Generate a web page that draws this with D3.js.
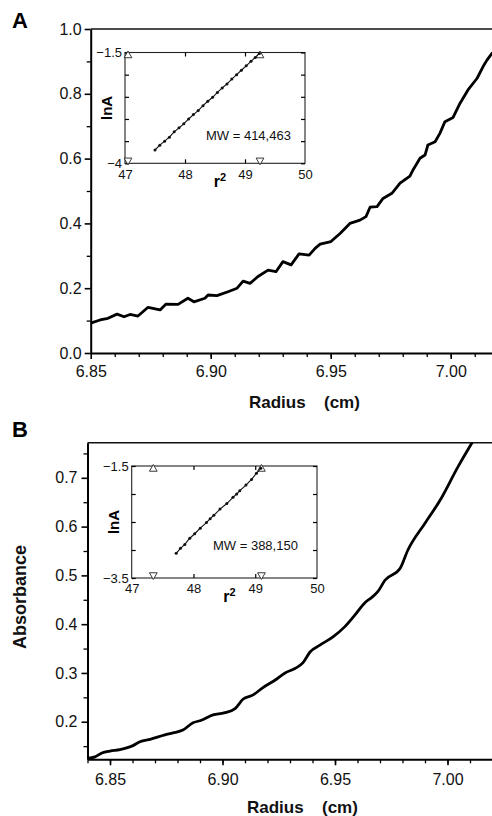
<!DOCTYPE html>
<html lang="en">
<head>
  <meta charset="UTF-8" />
  <title>Sedimentation equilibrium scans</title>
  <script src="https://d3js.org/d3.v7.min.js"></script>
  <style>
    body {
      margin: 0;
      padding: 0;
      background: #fff;
    }
    svg {
      display: block;
      font-family: "Liberation Sans", Arial, Helvetica, sans-serif;
    }
    .axis path,
    .axis line {
      stroke: #000;
    }
    .axis text {
      fill: #111;
    }
  </style>
</head>
<body>
  <svg width="492" height="816"></svg>
  <script>
    // Panel A: absorbance scan (radius in cm, absorbance)
    const radiusA = [6.8500, 6.8539, 6.8572, 6.8610, 6.8639, 6.8664, 6.8697, 6.8739, 6.8789, 6.8814,
      6.8864, 6.8905, 6.8930, 6.8976, 6.8989, 6.9026, 6.9072, 6.9110, 6.9135, 6.9164,
      6.9197, 6.9239, 6.9272, 6.9301, 6.9335, 6.9368, 6.9410, 6.9435, 6.9456, 6.9501,
      6.9539, 6.9580, 6.9622, 6.9647, 6.9664, 6.9693, 6.9718, 6.9755, 6.9789, 6.9830,
      6.9843, 6.9872, 6.9893, 6.9905, 6.9935, 6.9955, 6.9976, 7.0010, 7.0039, 7.0072,
      7.0110, 7.0135, 7.0151, 7.0172];
    const absA = [0.092, 0.102, 0.107, 0.120, 0.112, 0.119, 0.114, 0.141, 0.133, 0.151,
      0.150, 0.169, 0.158, 0.169, 0.179, 0.177, 0.189, 0.200, 0.222, 0.215,
      0.236, 0.256, 0.251, 0.282, 0.272, 0.306, 0.302, 0.323, 0.336, 0.344,
      0.369, 0.400, 0.410, 0.421, 0.450, 0.452, 0.477, 0.493, 0.524, 0.546,
      0.565, 0.601, 0.611, 0.642, 0.652, 0.678, 0.714, 0.727, 0.771, 0.812,
      0.848, 0.884, 0.904, 0.925];

    // Panel A inset: lnA vs r^2
    const r2A = [47.50, 47.58, 47.66, 47.74, 47.82, 47.90, 47.98, 48.06, 48.14, 48.22,
      48.30, 48.38, 48.46, 48.54, 48.62, 48.70, 48.78, 48.86, 48.94, 49.02,
      49.10, 49.17, 49.24];
    const lnA_A = [-3.70, -3.59, -3.50, -3.41, -3.29, -3.20, -3.11, -3.00, -2.90, -2.81,
      -2.70, -2.60, -2.51, -2.40, -2.30, -2.21, -2.10, -2.00, -1.90, -1.80,
      -1.70, -1.61, -1.52];
    const fitLimitsA = [47.05, 49.25];
    const mwA = "MW = 414,463";

    // Panel B: absorbance scan
    const radiusB = [6.8399, 6.8433, 6.8464, 6.8500, 6.8544, 6.8602, 6.8633, 6.8678, 6.8744, 6.8780,
      6.8824, 6.8869, 6.8900, 6.8958, 6.9007, 6.9056, 6.9091, 6.9136, 6.9180, 6.9233,
      6.9278, 6.9322, 6.9358, 6.9389, 6.9433, 6.9491, 6.9544, 6.9589, 6.9633, 6.9664,
      6.9691, 6.9722, 6.9789, 6.9824, 6.9900, 6.9967, 7.0047, 7.0109];
    const absB = [0.125, 0.128, 0.136, 0.140, 0.143, 0.151, 0.159, 0.164, 0.173, 0.177,
      0.183, 0.198, 0.202, 0.214, 0.218, 0.227, 0.246, 0.255, 0.270, 0.285,
      0.300, 0.309, 0.321, 0.343, 0.357, 0.374, 0.395, 0.419, 0.444, 0.455,
      0.467, 0.490, 0.514, 0.552, 0.607, 0.654, 0.723, 0.772];

    // Panel B inset
    const r2B = [47.72, 47.79, 47.86, 47.94, 48.02, 48.11, 48.21, 48.27, 48.33, 48.43,
      48.54, 48.64, 48.70, 48.75, 48.85, 48.94, 49.02, 49.09];
    const lnA_B = [-3.06, -2.97, -2.90, -2.79, -2.71, -2.61, -2.51, -2.44, -2.38, -2.27,
      -2.17, -2.06, -2.00, -1.94, -1.84, -1.74, -1.63, -1.54];
    const fitLimitsB = [47.35, 49.10];
    const mwB = "MW = 388,150";

    // tick labels
    const radiusTicks = [6.85, 6.90, 6.95, 7.00];
    const absTicksA = [0.0, 0.2, 0.4, 0.6, 0.8, 1.0];
    const absTicksB = [0.2, 0.3, 0.4, 0.5, 0.6, 0.7];
    const r2Ticks = [47, 48, 49, 50];

    const svg = d3.select("svg");

    function drawMain(opt) {
      const g = svg.append("g");
      const x = d3.scaleLinear().domain(opt.xDomain).range(opt.xRange);
      const y = d3.scaleLinear().domain(opt.yDomain).range(opt.yRange);

      // minor ticks
      g.append("g").attr("class", "axis")
        .attr("transform", `translate(0,${opt.yRange[0]})`)
        .call(d3.axisBottom(x).tickValues(opt.xMinor).tickFormat("").tickSize(4))
        .call(s => s.select(".domain").remove())
        .selectAll("line").attr("stroke-width", 1.3);
      g.append("g").attr("class", "axis")
        .attr("transform", `translate(${opt.xRange[0]},0)`)
        .call(d3.axisLeft(y).tickValues(opt.yMinor).tickFormat("").tickSize(4))
        .call(s => s.select(".domain").remove())
        .selectAll("line").attr("stroke-width", 1.3);

      // major ticks + labels
      const xa = g.append("g").attr("class", "axis")
        .attr("transform", `translate(0,${opt.yRange[0]})`)
        .call(d3.axisBottom(x).tickValues(radiusTicks).tickFormat(d3.format(".2f"))
          .tickSize(6).tickPadding(opt.xPad).tickSizeOuter(0));
      xa.select(".domain").attr("stroke-width", 2);
      xa.selectAll("line").attr("stroke-width", 1.6);
      xa.selectAll("text").attr("font-size", 16);

      const ya = g.append("g").attr("class", "axis")
        .attr("transform", `translate(${opt.xRange[0]},0)`)
        .call(d3.axisLeft(y).tickValues(opt.yTicks).tickFormat(d3.format(".1f"))
          .tickSize(6).tickPadding(opt.yPad).tickSizeOuter(0));
      ya.select(".domain").attr("stroke-width", 2);
      ya.selectAll("line").attr("stroke-width", 1.6);
      ya.selectAll("text").attr("font-size", 16);

      // top frame line
      g.append("line")
        .attr("x1", opt.xRange[0]).attr("x2", 492)
        .attr("y1", opt.yRange[1]).attr("y2", opt.yRange[1])
        .attr("stroke", "#111").attr("stroke-width", 1.6);

      const clipId = "clip" + opt.id;
      svg.append("clipPath").attr("id", clipId)
        .append("rect")
        .attr("x", opt.xRange[0]).attr("y", opt.yRange[1])
        .attr("width", 492 - opt.xRange[0]).attr("height", opt.yRange[0] - opt.yRange[1]);

      const line = d3.line()
        .x((d, i) => x(opt.xs[i]))
        .y((d, i) => y(opt.ys[i]))
        .curve(opt.curve);

      g.append("path")
        .attr("d", line(opt.xs))
        .attr("clip-path", `url(#${clipId})`)
        .attr("fill", "none")
        .attr("stroke", "#000")
        .attr("stroke-width", 2.8)
        .attr("stroke-linejoin", "round")
        .attr("stroke-linecap", "round");

      // x title
      const t = g.append("text")
        .attr("y", opt.titleY)
        .attr("font-size", 17)
        .attr("font-weight", "bold")
        .attr("fill", "#111");
      t.append("tspan").attr("x", opt.titleX).text("Radius");
      t.append("tspan").attr("x", opt.titleX + 75).text("(cm)");

      // panel letter
      g.append("text")
        .attr("x", 12).attr("y", opt.letterY)
        .attr("font-size", 22)
        .attr("font-weight", "bold")
        .text(opt.letter);

      return g;
    }

    function drawInset(opt) {
      const g = svg.append("g");
      const x = d3.scaleLinear().domain([47, 50]).range(opt.xRange);
      const y = d3.scaleLinear().domain(opt.yDomain).range(opt.yRange);
      const [x0, x1] = opt.xRange;
      const [y0, y1] = opt.yRange; // bottom, top

      g.append("rect")
        .attr("x", x0).attr("y", y1)
        .attr("width", x1 - x0).attr("height", y0 - y1)
        .attr("fill", "#fff").attr("stroke", "#222").attr("stroke-width", 1.1);

      const inner = [48, 49];
      const style = sel => {
        sel.select(".domain").remove();
        sel.selectAll("line").attr("stroke-width", 1.2);
        sel.selectAll("text").attr("font-size", 13);
      };

      g.append("g").attr("class", "axis")
        .attr("transform", `translate(0,${y0})`)
        .call(d3.axisBottom(x).tickValues(r2Ticks).tickSize(0).tickPadding(6).tickFormat(d3.format("d")))
        .call(style);
      g.append("g").attr("class", "axis")
        .attr("transform", `translate(0,${y0})`)
        .call(d3.axisBottom(x).tickValues(inner).tickSize(-4).tickFormat(""))
        .call(style);
      g.append("g").attr("class", "axis")
        .attr("transform", `translate(0,${y1})`)
        .call(d3.axisTop(x).tickValues(inner).tickSize(-4).tickFormat(""))
        .call(style);

      const ends = opt.yDomain;
      g.append("g").attr("class", "axis")
        .attr("transform", `translate(${x0},0)`)
        .call(d3.axisLeft(y).tickValues(opt.yTicks).tickSize(-4).tickPadding(3)
          .tickFormat(d => (d === ends[0] || d === ends[1]) ? d3.format("")(d) : ""))
        .call(style);
      g.append("g").attr("class", "axis")
        .attr("transform", `translate(${x1},0)`)
        .call(d3.axisRight(y).tickValues(opt.yTicks).tickSize(-4).tickFormat(""))
        .call(style);

      // fit limit markers
      const tri = d3.symbol(d3.symbolTriangle, 26);
      opt.limits.forEach(v => {
        g.append("path").attr("d", tri())
          .attr("transform", `translate(${x(v)},${y1 + 3})`)
          .attr("fill", "#fff").attr("stroke", "#222").attr("stroke-width", 0.9);
        g.append("path").attr("d", tri())
          .attr("transform", `translate(${x(v)},${y0 - 3}) rotate(180)`)
          .attr("fill", "#fff").attr("stroke", "#222").attr("stroke-width", 0.9);
      });

      const line = d3.line()
        .x((d, i) => x(opt.xs[i]))
        .y((d, i) => y(opt.ys[i]));
      g.append("path")
        .attr("d", line(opt.xs))
        .attr("fill", "none").attr("stroke", "#111").attr("stroke-width", 1.1);
      g.selectAll("circle.pt")
        .data(opt.xs)
        .join("circle")
        .attr("class", "pt")
        .attr("cx", (d, i) => x(opt.xs[i]))
        .attr("cy", (d, i) => y(opt.ys[i]))
        .attr("r", 1.5)
        .attr("fill", "#111");

      g.append("text")
        .attr("x", opt.mwX).attr("y", opt.mwY)
        .attr("font-size", 13).attr("fill", "#111")
        .text(opt.mw);

      // axis titles
      const cy = (y0 + y1) / 2;
      g.append("text")
        .attr("transform", `translate(${x0 - 13},${cy}) rotate(-90)`)
        .attr("text-anchor", "middle")
        .attr("font-size", 15).attr("font-weight", "bold")
        .text("lnA");
      const r = g.append("text")
        .attr("x", (x0 + x1) / 2 + 5).attr("y", y0 + 24)
        .attr("text-anchor", "middle")
        .attr("font-size", 16).attr("font-weight", "bold");
      r.append("tspan").text("r");
      r.append("tspan").attr("dy", -6).attr("font-size", 11).text("2");
    }

    drawMain({
      id: "A", letter: "A", letterY: 28,
      xDomain: [6.85, 7.02], xRange: [90.7, 90.7 + 0.17 * 2400],
      yDomain: [0, 1.0], yRange: [353, 29],
      xMinor: d3.range(6.86, 7.02, 0.01), yMinor: d3.range(0.1, 1.0, 0.2),
      yTicks: absTicksA, xPad: 7, yPad: 3,
      xs: radiusA, ys: absA, curve: d3.curveLinear,
      titleX: 249, titleY: 408
    });
    drawInset({
      xRange: [125, 305], yDomain: [-4, -1.5], yRange: [163.3, 52.5],
      yTicks: [-4, -3.5, -3, -2.5, -2, -1.5],
      limits: fitLimitsA, xs: r2A, ys: lnA_A,
      mw: mwA, mwX: 206, mwY: 140
    });

    drawMain({
      id: "B", letter: "B", letterY: 437,
      xDomain: [6.84, 7.02], xRange: [87.5, 87.5 + 0.18 * 2250],
      yDomain: [0.123, 0.772], yRange: [759.3, 442.7],
      xMinor: d3.range(6.84, 7.02, 0.01), yMinor: d3.range(0.15, 0.77, 0.1),
      yTicks: absTicksB, xPad: 8, yPad: 4,
      xs: radiusB, ys: absB, curve: d3.curveMonotoneX,
      titleX: 247, titleY: 813
    });
    drawInset({
      xRange: [131.7, 317], yDomain: [-3.5, -1.5], yRange: [578, 466],
      yTicks: [-3.5, -3, -2.5, -2, -1.5],
      limits: fitLimitsB, xs: r2B, ys: lnA_B,
      mw: mwB, mwX: 213, mwY: 550
    });

    // y title for panel B
    svg.append("text")
      .attr("transform", "translate(26,597) rotate(-90)")
      .attr("text-anchor", "middle")
      .attr("font-size", 18).attr("font-weight", "bold")
      .attr("fill", "#111")
      .text("Absorbance");
  </script>
</body>
</html>
